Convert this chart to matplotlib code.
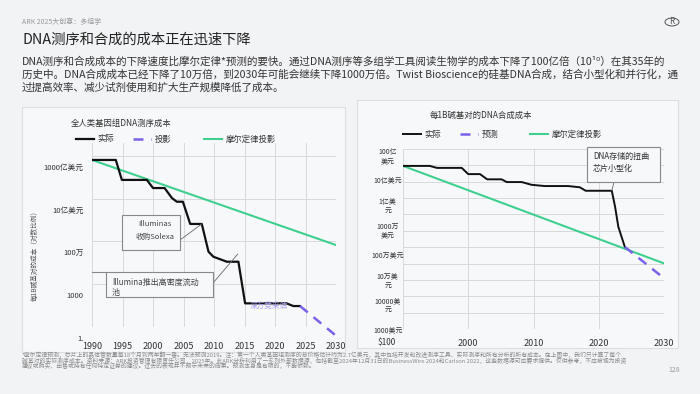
import matplotlib
matplotlib.use('Agg')
import matplotlib.pyplot as plt
from matplotlib.patches import Rectangle, Circle
from matplotlib.lines import Line2D
from matplotlib.transforms import ScaledTranslation
import numpy as np

plt.rcParams['font.family'] = ['Noto Sans CJK SC', 'DejaVu Sans']

# ---- data: sequencing cost (log10 of $ per genome) ----
seq_years = [1990, 1993.9, 1994.9, 1999, 2000, 2001.9, 2003.1, 2003.9, 2004.9,
             2006.1, 2008, 2009.1, 2009.9, 2012.1, 2014, 2015.1, 2021.9, 2023, 2024.1]
seq_log = [11.72, 11.72, 10.32, 10.32, 9.75, 9.75, 9.05, 8.79, 8.79,
           7.23, 7.23, 5.28, 4.93, 4.58, 4.58, 1.66, 1.66, 1.47, 1.47]
seq_proj_years = [2024.1, 2030]
seq_proj_log = [1.47, -0.61]
seq_moore_years = [1990, 2030]
seq_moore_log = [11.72, 5.75]
seq_xticks = [1990, 1995, 2000, 2005, 2010, 2015, 2020, 2025, 2030]
seq_ytick_log = [0, 3, 6, 9, 12]
seq_ytick_labels = ['1.', '1000', '100万', '10亿美元', '1000亿美元']

# ---- data: synthesis cost (log10 of $ per 1B base pairs) ----
syn_years = [1990, 1994.1, 1995.2, 1999, 2000, 2001.8, 2002.9, 2005.1, 2005.9,
             2008.2, 2009.7, 2011.7, 2015.3, 2017.1, 2018, 2022, 2022.5, 2023, 2024]
syn_log = [9.56, 9.56, 9.48, 9.48, 9.23, 9.23, 9.02, 9.02, 8.91,
           8.91, 8.80, 8.75, 8.75, 8.70, 8.56, 8.56, 7.92, 7.11, 6.30]
syn_proj_years = [2024, 2030]
syn_proj_log = [6.30, 5.04]
syn_moore_years = [1990, 2030]
syn_moore_log = [9.56, 5.64]
syn_xticks = [1990, 2000, 2010, 2020, 2030]
syn_xtick_labels = ['', '2000', '2010', '2020', '2030']
syn_ytick_log = [3, 4, 5, 6, 7, 8, 9, 10]
syn_ytick_labels = ['1000美元', '10000美\n元', '10万美\n元', '100万美元',
                    '1000万\n美元', '1亿美\n元', '10亿美元', '100亿\n美元']

BLACK = '#111111'
GREEN = '#3fd08f'
PURPLE = '#7b61e8'
GRID = '#d9d9d9'
W, H = 700, 394


def fx(px):
    return px / W


def fy(py):
    return 1 - py / H


fig = plt.figure(figsize=(7, 3.94), dpi=100, facecolor='#f2f3f5')

# panels
for (x0, y0, x1, y1) in [(22, 107, 345, 352), (357, 100, 678, 348)]:
    fig.add_artist(Rectangle((fx(x0), fy(y1)), fx(x1 - x0), (y1 - y0) / H,
                             transform=fig.transFigure, facecolor='#f7f8fa',
                             edgecolor='#dddee2', lw=0.8, zorder=-1))

# header text
fig.text(fx(22), fy(22), 'ARK 2025大创意：多组学', fontsize=5, color='#9a9a9a', va='center')
fig.text(fx(22), fy(40), 'DNA测序和合成的成本正在迅速下降', fontsize=10.3, color='#222222', va='center')
body = ['DNA测序和合成成本的下降速度比摩尔定律*预测的要快。通过DNA测序等多组学工具阅读生物学的成本下降了100亿倍（10¹⁰）在其35年的',
        '历史中。DNA合成成本已经下降了10万倍，到2030年可能会继续下降1000万倍。Twist Bioscience的硅基DNA合成，结合小型化和并行化，通',
        '过提高效率、减少试剂使用和扩大生产规模降低了成本。']
for i, line in enumerate(body):
    fig.text(fx(22), fy(62 + i * 12.8), line, fontsize=7.6, color='#333333', va='center')

# logo
fig.add_artist(Circle((fx(672), fy(22)), 7 / W, transform=fig.transFigure,
                      facecolor='none', edgecolor='#555555', lw=0.7))
fig.text(fx(672), fy(22), 'R', fontsize=6, color='#555555', ha='center', va='center')

# ================= left chart =================
ax1 = fig.add_axes([fx(92), fy(327), fx(336 - 92), (327 - 143) / H])
ax1.set_facecolor('none')
ax1.set_yscale('log')
ax1.plot(seq_years, np.power(10.0, seq_log), color=BLACK, lw=1.6, label='实际', zorder=3)
ax1.plot(seq_proj_years, np.power(10.0, seq_proj_log), color=PURPLE, lw=1.8,
         dashes=(4, 3), label='投影', clip_on=False, zorder=3)
ax1.plot(seq_moore_years, np.power(10.0, seq_moore_log), color=GREEN, lw=1.5,
         label='摩尔定律投影', zorder=2)
ax1.set_xlim(1990, 2030)
ax1.set_ylim(1, 10 ** 12.91)
ax1.set_xticks(seq_xticks)
ax1.set_xticklabels([str(y) for y in seq_xticks])
ax1.set_yticks(np.power(10.0, seq_ytick_log))
ax1.set_yticklabels(seq_ytick_labels)
ax1.minorticks_off()
ax1.tick_params(axis='x', length=0, pad=11, labelsize=6.5, labelcolor='#333333')
ax1.tick_params(axis='y', length=0, pad=6, labelsize=5.5, labelcolor='#333333')
ax1.grid(True, color=GRID, lw=0.7)
for s in ax1.spines.values():
    s.set_visible(False)
shift = ScaledTranslation(0, -0.11, fig.dpi_scale_trans)
for lab in ax1.get_yticklabels():
    lab.set_transform(lab.get_transform() + shift)

fig.text(fx(71), fy(123), '全人类基因组DNA测序成本', fontsize=6, color='#333333', va='center')
fig.text(fx(35), fy(254), '每1B碱基对的成本（对数比例）', fontsize=4.8, color='#555555',
         rotation=90, ha='center', va='center')

# annotations left
fig.add_artist(Rectangle((fx(122), fy(250)), fx(58), 35 / H, transform=fig.transFigure,
                         facecolor='#f7f8fa', edgecolor='#888888', lw=0.8, zorder=1))
fig.text(fx(155), fy(224), 'Illuminas', fontsize=5.5, color='#444444', ha='center', va='center', zorder=2)
fig.text(fx(155), fy(237), '收购Solexa', fontsize=5.5, color='#444444', ha='center', va='center', zorder=2)
ax1.annotate('', xy=(2008, 10 ** 7.23), xytext=(fx(180), fy(240)), textcoords='figure fraction',
             arrowprops=dict(arrowstyle='-', color='#666666', lw=0.6, shrinkA=0, shrinkB=0))

fig.add_artist(Rectangle((fx(106), fy(297)), fx(107), 25 / H, transform=fig.transFigure,
                         facecolor='#f7f8fa', edgecolor='#888888', lw=0.8, zorder=1))
fig.add_artist(Line2D([fx(92), fx(106)], [fy(272), fy(272)], transform=fig.transFigure,
                      color='#888888', lw=0.8, zorder=1))
fig.text(fx(112), fy(282), 'Illumina推出高密度流动', fontsize=5.8, color='#444444', va='center', zorder=2)
fig.text(fx(112), fy(292), '池', fontsize=5.8, color='#444444', va='center', zorder=2)
ax1.annotate('', xy=(2013.9, 10 ** 5.12), xytext=(fx(213), fy(283)), textcoords='figure fraction',
             arrowprops=dict(arrowstyle='-', color='#666666', lw=0.6, shrinkA=0, shrinkB=0))

fig.text(fx(250), fy(307), '深方竞采估', fontsize=5.5, color='#a99cf2', va='center', zorder=2)

# ================= right chart =================
ax2 = fig.add_axes([fx(403), fy(329), fx(664 - 403), (329 - 149) / H])
ax2.set_facecolor('none')
ax2.set_yscale('log')
ax2.plot(syn_years, np.power(10.0, syn_log), color=BLACK, lw=1.4, label='实际', zorder=3)
ax2.plot(syn_proj_years, np.power(10.0, syn_proj_log), color=PURPLE, lw=1.8,
         dashes=(4, 3), label='预测', zorder=3)
ax2.plot(syn_moore_years, np.power(10.0, syn_moore_log), color=GREEN, lw=1.5,
         label='摩尔定律投影', zorder=2)
ax2.set_xlim(1990, 2030)
ax2.set_ylim(1e3, 10 ** 10.24)
ax2.set_xticks(syn_xticks)
ax2.set_xticklabels(syn_xtick_labels)
ax2.set_yticks(np.power(10.0, syn_ytick_log))
ax2.set_yticklabels(syn_ytick_labels)
ax2.set_yticks(np.power(10.0, np.linspace(3, 10.24, 12)), minor=True)
ax2.tick_params(axis='x', length=0, pad=7, labelsize=6.5, labelcolor='#333333')
ax2.tick_params(axis='y', which='both', length=0, pad=11, labelsize=5, labelcolor='#333333')
ax2.grid(True, axis='x', color=GRID, lw=0.7)
ax2.grid(True, axis='y', which='minor', color=GRID, lw=0.7)
ax2.grid(False, axis='y', which='major')
for lab in ax2.get_yticklabels():
    lab.set_ha('center')
    lab.set_multialignment('center')
for s in ax2.spines.values():
    s.set_visible(False)
fig.text(fx(387), fy(342), '\\$100', fontsize=6, color='#333333', ha='center', va='center')

fig.text(fx(430), fy(115), '每1B碱基对的DNA合成成本', fontsize=6, color='#333333', va='center')

fig.add_artist(Rectangle((fx(587), fy(182)), fx(73), 35 / H, transform=fig.transFigure,
                         facecolor='#f7f8fa', edgecolor='#888888', lw=0.8, zorder=1))
fig.text(fx(593), fy(156), 'DNA存储的扭曲', fontsize=5.8, color='#333333', va='center', zorder=2)
fig.text(fx(593), fy(168), '芯片小型化', fontsize=5.8, color='#333333', va='center', zorder=2)
ax2.annotate('', xy=(2022, 10 ** 8.56), xytext=(fx(614), fy(182)), textcoords='figure fraction',
             arrowprops=dict(arrowstyle='-', color='#666666', lw=0.6, shrinkA=0, shrinkB=0))

# legends, one item each
def legend_item(line, x, y):
    fig.legend([line], [line.get_label()], loc='center left', bbox_to_anchor=(fx(x), fy(y)),
               frameon=False, fontsize=6, handlelength=2.2, handletextpad=0.4,
               borderpad=0, borderaxespad=0, labelcolor='#333333')


for line, x in zip(ax1.get_lines(), [76, 133, 204]):
    legend_item(line, x, 139)
for line, x in zip(ax2.get_lines(), [403, 460, 530]):
    legend_item(line, x, 134)

# footnote
notes = ['*摩尔定律预测，芯片上的晶体管数量每18个月到两年翻一番。无法预测2019。注：第一个人类基因组测序的总价格估计约为2.7亿美元，其中包括开发和改进测序工具、实际测序和所有分析的所有成本。在上图中，我们只计算了每个',
         '碱基对的实际测序成本。资料来源：ARK投资管理有限责任公司，2025年。此ARK分析利用了一系列外部数据源，包括截至2024年12月31日的BusinessWire 2024和Carlson 2022，这些数据源可应要求提供。仅供参考，不应被视为投资',
         '建议或购买、出售或持有任何特定证券的建议。过去的表现并不预示未来的结果。预测本身是有限的，不能依赖。']
for i, line in enumerate(notes):
    fig.text(fx(22), fy(355 + i * 5.6), line, fontsize=4.2, color='#8a8a8a', va='center')
fig.text(fx(668), fy(370), '128', fontsize=5, color='#999999', va='center')

fig.savefig('out.png', dpi=100, facecolor=fig.get_facecolor())
